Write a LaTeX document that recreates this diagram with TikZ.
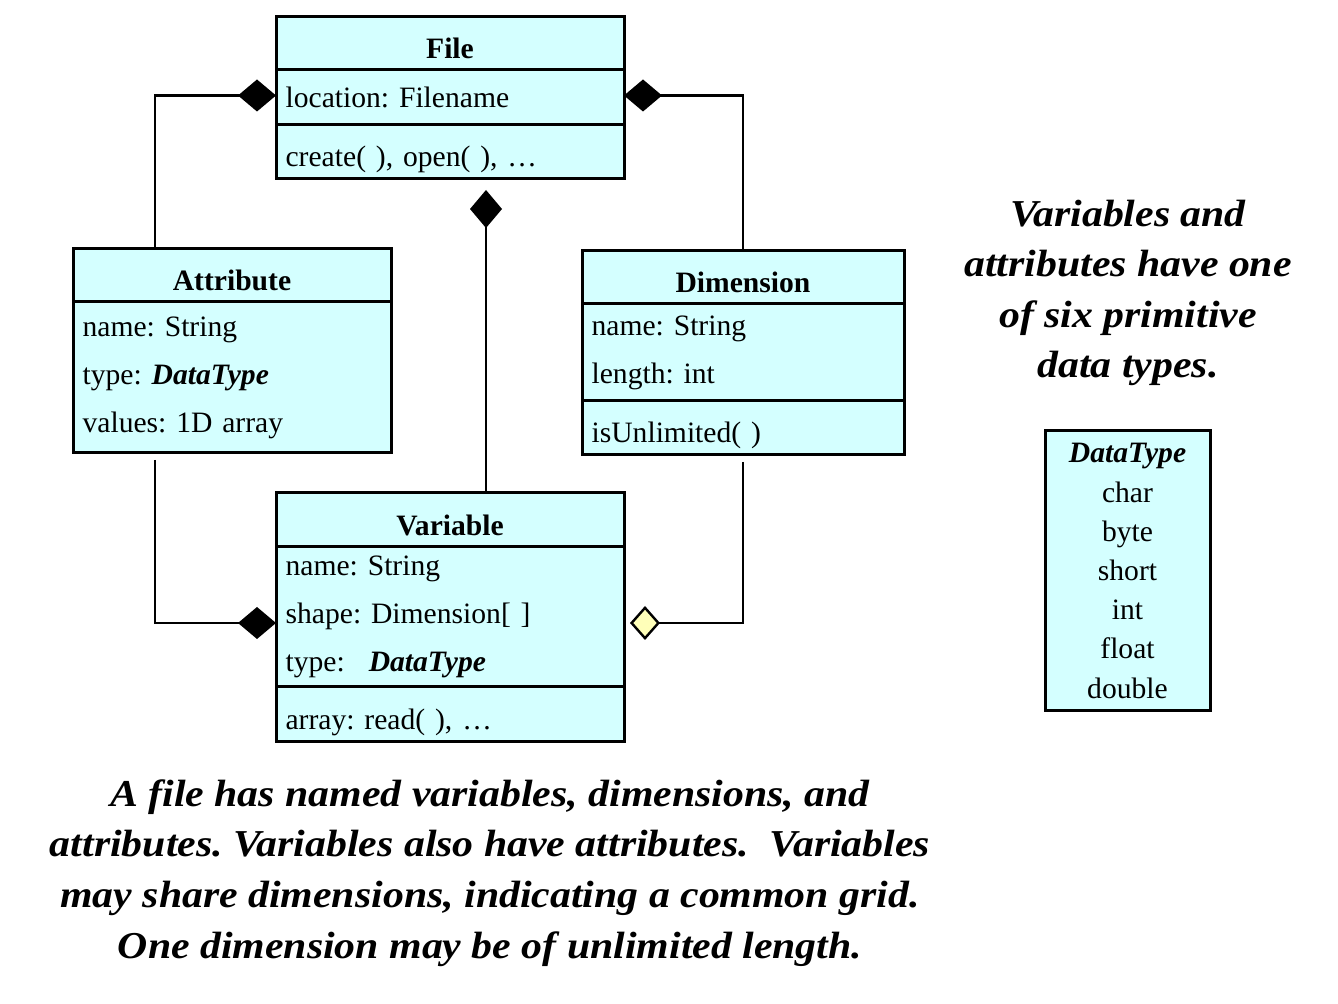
\documentclass[tikz,border=0pt]{standalone}
\usepackage{fontspec}
\setmainfont{Liberation Serif}
\newfontfamily\notefont[FakeStretch=1.1]{Liberation Serif}
\usetikzlibrary{arrows.meta, positioning}
\definecolor{classfill}{RGB}{212, 255, 255}
\definecolor{sharefill}{RGB}{255, 255, 185}
\newcommand{\classsize}{\fontsize{14.8pt}{24pt}\selectfont}
\frenchspacing

\begin{document}
\begin{tikzpicture}[
    x=0.5pt, y=-0.5pt,
    classhead/.style={rectangle, draw, line width=1.5pt, fill=classfill, outer sep=0pt,
                      inner sep=0pt, minimum height=26.5pt, text height=15.5pt, text depth=0pt,
                      font=\classsize\bfseries},
    classpart/.style={rectangle, draw, line width=1.5pt, fill=classfill, outer sep=0pt,
                      inner xsep=4.8pt, inner ysep=0pt, align=left, font=\classsize},
    classops/.style={classpart, text height=18pt, text depth=3pt},
    owns/.style={line width=1.2pt, -{Diamond[length=19pt, width=16pt]}},
    shares/.style={line width=1.2pt, -{Diamond[length=15pt, width=17pt, fill=sharefill]}},
    note/.style={align=center, font=\notefont\bfseries\itshape\fontsize{19pt}{25.3pt}\selectfont}
]
\useasboundingbox (0,0) rectangle (1338,1004);

% File class
\node[classhead, minimum width=174pt, anchor=north] (file) at (450,17) {File};
\node[classpart, minimum height=27.5pt, text width=164.4pt, below=0pt of file] (file-attr) {location: Filename};
\node[classops, minimum height=27pt, text width=164.4pt, below=0pt of file-attr] (file-ops) {create( ), open( ), …};

% Attribute class
\node[classhead, minimum width=159pt, anchor=north] (attr) at (232,249) {Attribute};
\node[classpart, minimum height=75.5pt, text width=149.4pt, below=0pt of attr] (attr-vals) {
    name: String\\
    type: \textbf{\textit{DataType}}\\
    values: 1D array};

% Dimension class
\node[classhead, minimum width=161pt, anchor=north] (dim) at (743,251) {Dimension};
\node[classpart, minimum height=48.5pt, text width=151.4pt, below=0pt of dim] (dim-attr) {
    name: String\\
    length: int};
\node[classops, minimum height=27pt, text width=151.4pt, below=0pt of dim-attr] (dim-ops) {isUnlimited( )};

% Variable class
\node[classhead, minimum width=174pt, minimum height=27pt, below=157pt of file-ops] (var) {Variable};
\node[classpart, minimum height=70pt, text width=164.4pt, below=0pt of var] (var-attr) {
    name: String\\
    shape: Dimension[ ]\\
    type:\hspace{12pt}\textbf{\textit{DataType}}};
\node[classops, minimum height=27pt, text width=164.4pt, below=0pt of var-attr] (var-ops) {array: read( ), …};

% primitive types
\node[classpart, align=center, minimum width=82.5pt, minimum height=140pt, anchor=north,
      font=\fontsize{14.8pt}{19.6pt}\selectfont] (dtype) at (1127.5,431) {
    \textbf{\textit{DataType}}\\ char\\ byte\\ short\\ int\\ float\\ double};

% notes
\node[note] (types-note) at (1128,293) {Variables and\\ attributes have one\\ of six primitive\\ data types.};
\node[note] (file-note) at (490,873) {A file has named variables, dimensions, and\\
    attributes. Variables also have attributes.\ \ Variables\\
    may share dimensions, indicating a common grid.\\
    One dimension may be of unlimited length.};

% compositions into File
\draw[owns] ([xshift=41pt]attr.north west) |- ([yshift=1pt]file-attr.west);
\draw[owns] (dim.north) |- ([yshift=1pt]file-attr.east);
\draw[owns, shorten >=5.5pt] ([xshift=18pt]var.north) -- ([xshift=18pt]file-ops.south);

% attributes and shared dimensions of a Variable
\draw[owns, shorten <=3.5pt] ([xshift=41pt]attr-vals.south west) |- ([yshift=-3pt]var-attr.west);
\draw[shares, shorten <=3.5pt, shorten >=3pt] (dim-ops.south) |- ([yshift=-3pt]var-attr.east);

\end{tikzpicture}
\end{document}
